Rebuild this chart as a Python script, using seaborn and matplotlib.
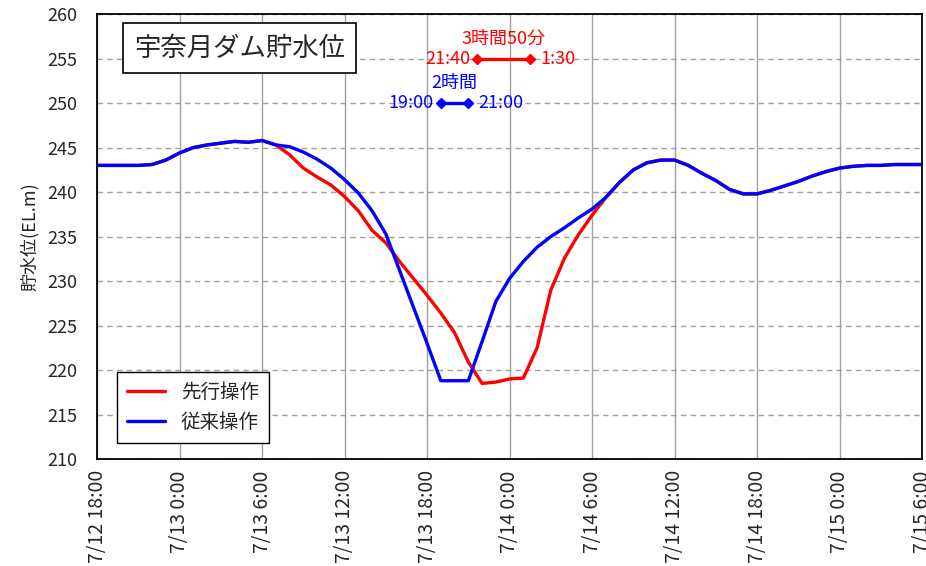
import pandas as pd
import matplotlib
matplotlib.use("Agg")
import matplotlib.pyplot as plt
import matplotlib.dates as mdates
import seaborn as sns

# hourly water level, 7/12 18:00 -> 7/15 6:00
start = pd.Timestamp("2021-07-12 18:00")
times = pd.date_range(start, periods=61, freq="h")

conventional = [
    243.0, 243.0, 243.0, 243.0, 243.1, 243.6, 244.4, 245.0, 245.3, 245.5,
    245.7, 245.6, 245.8, 245.3, 245.1, 244.5, 243.7, 242.7, 241.4, 239.9,
    237.9, 235.3, 231.2, 227.1, 223.0, 218.8, 218.8, 218.8, 223.2, 227.7,
    230.3, 232.2, 233.8, 235.0, 236.0, 237.1, 238.1, 239.4, 241.1, 242.5,
    243.3, 243.6, 243.6, 243.0, 242.1, 241.3, 240.3, 239.8, 239.8, 240.2,
    240.7, 241.2, 241.8, 242.3, 242.7, 242.9, 243.0, 243.0, 243.1, 243.1,
    243.1,
]
advance = [
    243.0, 243.0, 243.0, 243.0, 243.1, 243.6, 244.4, 245.0, 245.3, 245.5,
    245.7, 245.6, 245.8, 245.3, 244.2, 242.7, 241.7, 240.8, 239.5, 237.9,
    235.7, 234.3, 232.2, 230.3, 228.4, 226.4, 224.2, 220.9, 218.5, 218.65,
    219.0, 219.1, 222.5, 229.0, 232.6, 235.2, 237.4, 239.4, 241.1, 242.5,
    243.3, 243.6, 243.6, 243.0, 242.1, 241.3, 240.3, 239.8, 239.8, 240.2,
    240.7, 241.2, 241.8, 242.3, 242.7, 242.9, 243.0, 243.0, 243.1, 243.1,
    243.1,
]

# discharge duration markers
adv_span = [pd.Timestamp("2021-07-13 21:40"), pd.Timestamp("2021-07-14 01:30")]
adv_level = 255
adv_labels = ["21:40", "1:30", "3時間50分"]
conv_span = [pd.Timestamp("2021-07-13 19:00"), pd.Timestamp("2021-07-13 21:00")]
conv_level = 250
conv_labels = ["19:00", "21:00", "2時間"]

df = pd.concat([
    pd.DataFrame({"time": times, "level": advance, "op": "先行操作"}),
    pd.DataFrame({"time": times, "level": conventional, "op": "従来操作"}),
])

sns.set_style("white")
plt.rcParams["font.family"] = ["Noto Sans CJK JP", "DejaVu Sans"]

fig = plt.figure(figsize=(9.26, 5.66), dpi=100)
ax = fig.add_axes([0.1048, 0.189, 0.891, 0.786])

sns.lineplot(data=df, x="time", y="level", hue="op",
             palette={"先行操作": "#ff0000", "従来操作": "#0000ff"},
             linewidth=2.4, ax=ax)

# duration bars
ax.plot(adv_span, [adv_level] * 2, color="#ff0000", lw=2.4, marker="D", ms=5)
ax.plot(conv_span, [conv_level] * 2, color="#0000ff", lw=2.4, marker="D", ms=5)
mid_a = adv_span[0] + (adv_span[1] - adv_span[0]) / 2
mid_c = conv_span[0] + (conv_span[1] - conv_span[0]) / 2
fs = 13
ax.annotate(adv_labels[0], (adv_span[0], adv_level), xytext=(-5, 0), textcoords="offset points",
            ha="right", va="center", color="#ff0000", fontsize=fs)
ax.annotate(adv_labels[1], (adv_span[1], adv_level), xytext=(7, 0), textcoords="offset points",
            ha="left", va="center", color="#ff0000", fontsize=fs)
ax.annotate(adv_labels[2], (mid_a, adv_level), xytext=(0, 8), textcoords="offset points",
            ha="center", va="bottom", color="#ff0000", fontsize=fs)
ax.annotate(conv_labels[0], (conv_span[0], conv_level), xytext=(-5, 0), textcoords="offset points",
            ha="right", va="center", color="#0000ff", fontsize=fs)
ax.annotate(conv_labels[1], (conv_span[1], conv_level), xytext=(7, 0), textcoords="offset points",
            ha="left", va="center", color="#0000ff", fontsize=fs)
ax.annotate(conv_labels[2], (mid_c, conv_level), xytext=(0, 8), textcoords="offset points",
            ha="center", va="bottom", color="#0000ff", fontsize=fs)

# title box
ax.text(0.173, 0.924, "宇奈月ダム貯水位", transform=ax.transAxes, ha="center", va="center",
        fontsize=19, bbox=dict(boxstyle="square,pad=0.42", fc="white", ec="black", lw=1.2))

ax.set_xlim(times[0], times[-1])
ax.set_ylim(210, 260)
ax.set_yticks(range(210, 261, 5))
ax.xaxis.set_major_locator(mdates.HourLocator(byhour=[0, 6, 12, 18]))
ticks = ax.get_xticks()
ax.set_xticklabels([f"{mdates.num2date(t).month}/{mdates.num2date(t).day} {mdates.num2date(t).hour}:00"
                    for t in ticks], rotation=90, fontsize=14)
ax.tick_params(axis="x", length=0, pad=8)
ax.tick_params(axis="y", length=0, pad=14, labelsize=13)
ax.set_xlabel("")
ax.set_ylabel("貯水位(EL.m)", fontsize=13, labelpad=6)

ax.grid(axis="x", color="#a0a0a0", lw=1.0, ls="-")
ax.grid(axis="y", color="#a0a0a0", lw=1.0, ls=(0, (4, 3)))
for s in ax.spines.values():
    s.set_color("black")
    s.set_linewidth(1.3)

leg = ax.legend(loc="lower left", bbox_to_anchor=(0.024, 0.036), borderaxespad=0,
                fontsize=14, handlelength=2.0, fancybox=False, edgecolor="black",
                framealpha=1, borderpad=0.5, labelspacing=0.5)
leg.get_frame().set_linewidth(1.0)

fig.savefig("out.png", dpi=100)
